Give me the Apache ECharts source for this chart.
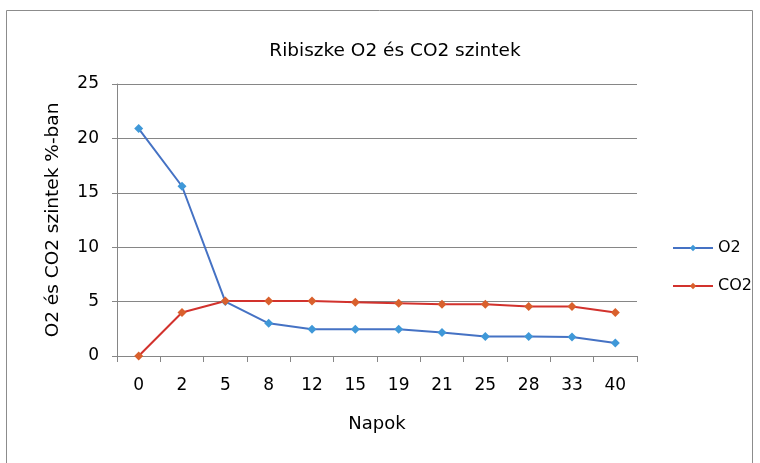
<!DOCTYPE html>
<html>
<head>
<meta charset="utf-8">
<script src="https://cdn.jsdelivr.net/npm/echarts@6/dist/echarts.min.js"></script>
<style>
  html, body { margin: 0; padding: 0; background: #fff; }
  #chart { width: 760px; height: 463px; }
</style>
</head>
<body>
<div id="chart"></div>
<script>
const chart = echarts.init(document.getElementById('chart'));

// napok (x tengely)
const days = ['0', '2', '5', '8', '12', '15', '19', '21', '25', '28', '33', '40'];
// O2 szint %
const o2 = [20.9, 15.6, 5.0, 3.0, 2.45, 2.45, 2.45, 2.15, 1.8, 1.8, 1.75, 1.2];
// CO2 szint %
const co2 = [0, 4.0, 5.05, 5.05, 5.05, 4.95, 4.85, 4.75, 4.75, 4.55, 4.55, 4.0];

const font = 'DejaVu Sans';
const axisGray = '#868686';

const option = {
  backgroundColor: '#fff',
  textStyle: { fontFamily: font },
  // kulso keret
  graphic: [{
    type: 'rect',
    shape: { x: 6.5, y: 10.5, width: 746, height: 470 },
    style: { fill: 'none', stroke: '#8c8c8c', lineWidth: 1 },
    silent: true
  }],
  title: {
    text: 'Ribiszke O2 és CO2 szintek',
    left: 390,
    textAlign: 'center',
    top: 37,
    textStyle: { fontFamily: font, fontSize: 18.5, fontWeight: 'normal', color: '#000' }
  },
  legend: {
    orient: 'vertical',
    left: 667,
    top: 235,
    itemWidth: 40,
    itemHeight: 8,
    itemGap: 22,
    textStyle: { fontFamily: font, fontSize: 16, color: '#000' },
    data: ['O2', 'CO2']
  },
  grid: { left: 117, right: 123, top: 84, bottom: 107 },
  xAxis: {
    type: 'category',
    data: days,
    boundaryGap: true,
    name: 'Napok',
    nameLocation: 'middle',
    nameGap: 59,
    nameTextStyle: { fontFamily: font, fontSize: 18, color: '#000' },
    axisLine: { lineStyle: { color: axisGray } },
    axisTick: { show: true, length: 6, alignWithLabel: false, lineStyle: { color: axisGray } },
    axisLabel: { fontFamily: font, fontSize: 17, color: '#000', margin: 21 },
    splitLine: { show: false }
  },
  yAxis: {
    type: 'value',
    min: 0,
    max: 25,
    interval: 5,
    name: 'O2 és CO2 szintek %-ban',
    nameLocation: 'middle',
    nameGap: 54,
    nameRotate: 90,
    nameTextStyle: { fontFamily: font, fontSize: 18.5, color: '#000' },
    axisLine: { show: true, lineStyle: { color: axisGray } },
    axisTick: { show: true, length: 5, lineStyle: { color: axisGray } },
    axisLabel: { fontFamily: font, fontSize: 17, color: '#000', margin: 18 },
    splitLine: { lineStyle: { color: axisGray, width: 1 } }
  },
  series: [{
    name: 'O2',
    type: 'line',
    data: o2,
    symbol: 'diamond',
    symbolSize: 9,
    lineStyle: { color: '#4572c4', width: 2 },
    itemStyle: { color: '#3f98d8' }
  }, {
    name: 'CO2',
    type: 'line',
    data: co2,
    symbol: 'diamond',
    symbolSize: 9,
    lineStyle: { color: '#d2322d', width: 2 },
    itemStyle: { color: '#d9602d' }
  }]
};
chart.setOption(option);
</script>
</body>
</html>
